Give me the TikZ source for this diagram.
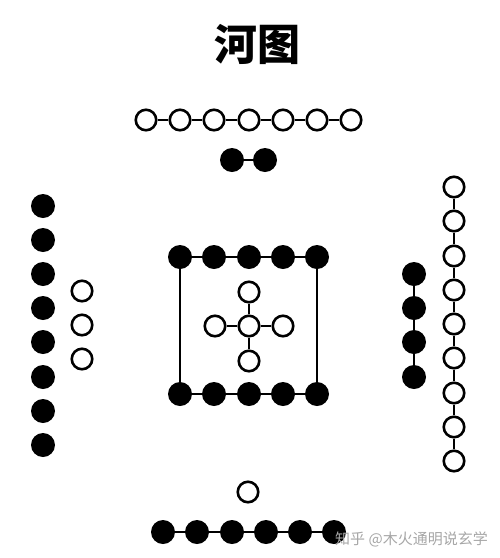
\documentclass[tikz,border=0pt]{standalone}
\usepackage{fontspec}
\newfontfamily\cjk{Noto Sans CJK SC}
\begin{document}
\begin{tikzpicture}[x=1pt,y=-1pt,
  wdot/.style={circle,draw=black,line width=2.6pt,fill=white,minimum size=20.5pt,inner sep=0pt},
  bdot/.style={circle,fill=black,minimum size=24pt,inner sep=0pt},
  link/.style={line width=2.6pt,black}]
\useasboundingbox (0,0) rectangle (500,558);
% title
\node (title) at (257,44) {\cjk\bfseries\fontsize{43}{46}\selectfont 河图};
% top row of 7 white
\foreach \i/\x in {1/146,2/180,3/214,4/249,5/283,6/317,7/351}
  \node[wdot] (tw\i) at (\x,120) {};
\foreach \i [evaluate=\i as \j using int(\i+1)] in {1,...,6}
  \draw[link] (tw\i) -- (tw\j);
% two black
\node[bdot] (tb1) at (232,160) {};
\node[bdot] (tb2) at (265,160) {};
\draw[link] (tb1) -- (tb2);
% left black column of 8
\foreach \i/\y in {1/206,2/240,3/274,4/308,5/342,6/377,7/411,8/445}
  \node[bdot] (lb\i) at (43,\y) {};
% left white 3
\foreach \i/\y in {1/291,2/325,3/359}
  \node[wdot] (lw\i) at (82,\y) {};
% center square
\foreach \i/\x in {1/180,2/214,3/249,4/283,5/317}{
  \node[bdot] (st\i) at (\x,257) {};
  \node[bdot] (sb\i) at (\x,394) {};
}
\foreach \i [evaluate=\i as \j using int(\i+1)] in {1,...,4}{
  \draw[link] (st\i) -- (st\j);
  \draw[link] (sb\i) -- (sb\j);
}
\draw[link] (st1) -- (sb1);
\draw[link] (st5) -- (sb5);
% cross
\node[wdot] (cc) at (249,326) {};
\node[wdot] (cn) at (249,292) {};
\node[wdot] (cs) at (249,361) {};
\node[wdot] (cw) at (215,326) {};
\node[wdot] (ce) at (283,326) {};
\foreach \n in {cn,cs,cw,ce} \draw[link] (cc) -- (\n);
% right black 4
\foreach \i/\y in {1/274,2/308,3/342,4/377}
  \node[bdot] (rb\i) at (414,\y) {};
\foreach \i [evaluate=\i as \j using int(\i+1)] in {1,...,3}
  \draw[link] (rb\i) -- (rb\j);
% right white 9
\foreach \i/\y in {1/187,2/221,3/256,4/290,5/324,6/358,7/393,8/427,9/461}
  \node[wdot] (rw\i) at (454,\y) {};
\foreach \i [evaluate=\i as \j using int(\i+1)] in {1,...,8}
  \draw[link] (rw\i) -- (rw\j);
% bottom
\node[wdot] (bw) at (248,492) {};
\foreach \i/\x in {1/163,2/197,3/232,4/266,5/300,6/334}
  \node[bdot] (bb\i) at (\x,532) {};
\foreach \i [evaluate=\i as \j using int(\i+1)] in {1,...,5}
  \draw[link] (bb\i) -- (bb\j);
% watermark
\node[anchor=west,text=black!35,inner sep=0pt] (wm) at (335,539) {\cjk\fontsize{15}{16}\selectfont 知乎 @木火通明说玄学};
\end{tikzpicture}
\end{document}
